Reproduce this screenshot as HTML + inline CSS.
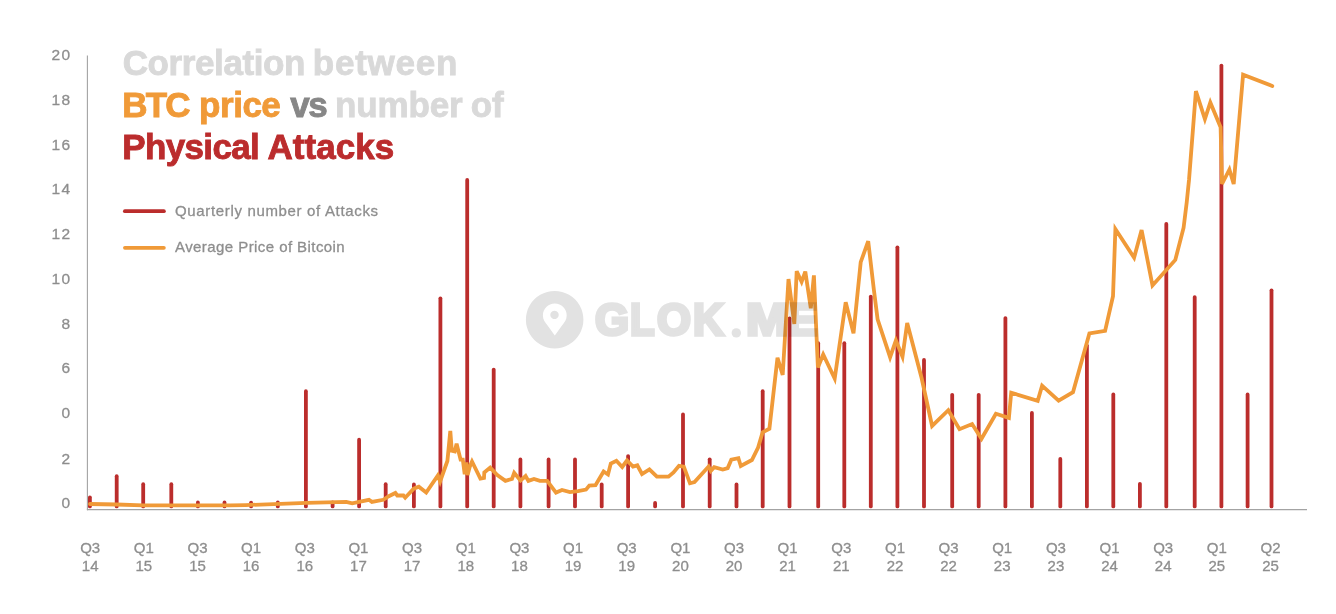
<!DOCTYPE html>
<html><head><meta charset="utf-8"><style>
html,body{margin:0;padding:0;background:#fff;}
body{width:1336px;height:614px;position:relative;overflow:hidden;font-family:"Liberation Sans",sans-serif;}
svg{position:absolute;left:0;top:0;}
.yl{position:absolute;left:21.5px;width:50px;text-align:right;font-size:15.5px;line-height:18px;letter-spacing:1.4px;color:#8e8e8e;-webkit-text-stroke:0.3px #8e8e8e;}
.xl{position:absolute;top:538.6px;width:40px;text-align:center;font-size:15px;line-height:18px;color:#8e8e8e;-webkit-text-stroke:0.3px #8e8e8e;}
.t{position:absolute;font-weight:bold;font-size:35px;line-height:35px;white-space:nowrap;-webkit-text-stroke:0.9px currentColor;}
.lg{position:absolute;left:175px;font-size:15px;line-height:18px;color:#8e8e8e;white-space:nowrap;-webkit-text-stroke:0.3px #8e8e8e;}
.wml{position:absolute;left:0;top:0;width:1336px;height:614px;mix-blend-mode:multiply;}
.wm{position:absolute;top:297px;font-weight:bold;font-size:45px;line-height:45px;color:#e2e2e2;-webkit-text-stroke:3.4px #e2e2e2;transform-origin:0 0;white-space:nowrap;}
.wmi{position:absolute;left:0;top:0;mix-blend-mode:multiply;}
</style></head><body>
<svg width="1336" height="614" viewBox="0 0 1336 614">
<line x1="87.4" y1="55.5" x2="87.4" y2="510.2" stroke="#a3a3a3" stroke-width="1.1"/>
<line x1="86.9" y1="509.7" x2="1307" y2="509.7" stroke="#a3a3a3" stroke-width="1.2"/>
<g stroke="#bb2d2c" stroke-width="3.8" stroke-linecap="round">
<line x1="89.9" y1="506.4" x2="89.9" y2="497.3"/>
<line x1="116.7" y1="506.4" x2="116.7" y2="476.2"/>
<line x1="143.2" y1="506.4" x2="143.2" y2="484.2"/>
<line x1="171.3" y1="506.4" x2="171.3" y2="484.2"/>
<line x1="197.9" y1="506.4" x2="197.9" y2="502.4"/>
<line x1="224.5" y1="506.4" x2="224.5" y2="502.4"/>
<line x1="251.1" y1="506.4" x2="251.1" y2="502.6"/>
<line x1="277.8" y1="506.4" x2="277.8" y2="502.4"/>
<line x1="305.9" y1="506.4" x2="305.9" y2="391.2"/>
<line x1="332.6" y1="506.4" x2="332.6" y2="502.4"/>
<line x1="359.1" y1="506.4" x2="359.1" y2="439.7"/>
<line x1="385.7" y1="506.4" x2="385.7" y2="484.2"/>
<line x1="413.9" y1="506.4" x2="413.9" y2="484.4"/>
<line x1="440.4" y1="506.4" x2="440.4" y2="298.3"/>
<line x1="467.2" y1="506.4" x2="467.2" y2="180"/>
<line x1="493.7" y1="506.4" x2="493.7" y2="369.6"/>
<line x1="520.4" y1="506.4" x2="520.4" y2="459.4"/>
<line x1="548.6" y1="506.4" x2="548.6" y2="459.4"/>
<line x1="575" y1="506.4" x2="575" y2="459.4"/>
<line x1="601.7" y1="506.4" x2="601.7" y2="484.4"/>
<line x1="628.1" y1="506.4" x2="628.1" y2="456.1"/>
<line x1="655.1" y1="506.4" x2="655.1" y2="502.9"/>
<line x1="683" y1="506.4" x2="683" y2="414.5"/>
<line x1="709.7" y1="506.4" x2="709.7" y2="459.3"/>
<line x1="736.5" y1="506.4" x2="736.5" y2="484.4"/>
<line x1="762.7" y1="506.4" x2="762.7" y2="391.2"/>
<line x1="789.5" y1="506.4" x2="789.5" y2="318.5"/>
<line x1="818.2" y1="506.4" x2="818.2" y2="343.2"/>
<line x1="844.3" y1="506.4" x2="844.3" y2="343.2"/>
<line x1="870.8" y1="506.4" x2="870.8" y2="296.6"/>
<line x1="897.4" y1="506.4" x2="897.4" y2="247.3"/>
<line x1="924" y1="506.4" x2="924" y2="360"/>
<line x1="952.2" y1="506.4" x2="952.2" y2="394.8"/>
<line x1="978.7" y1="506.4" x2="978.7" y2="394.8"/>
<line x1="1005.4" y1="506.4" x2="1005.4" y2="318.1"/>
<line x1="1031.9" y1="506.4" x2="1031.9" y2="413"/>
<line x1="1060.3" y1="506.4" x2="1060.3" y2="459"/>
<line x1="1086.9" y1="506.4" x2="1086.9" y2="345.6"/>
<line x1="1113.3" y1="506.4" x2="1113.3" y2="394.4"/>
<line x1="1139.9" y1="506.4" x2="1139.9" y2="483.8"/>
<line x1="1166.3" y1="506.4" x2="1166.3" y2="223.9"/>
<line x1="1194.7" y1="506.4" x2="1194.7" y2="297.1"/>
<line x1="1221.4" y1="506.4" x2="1221.4" y2="65.6"/>
<line x1="1247.6" y1="506.4" x2="1247.6" y2="394.4"/>
<line x1="1271.5" y1="506.4" x2="1271.5" y2="290.3"/>
</g>
<polyline points="90,504 116.7,504.5 143,505.4 230,505.4 245.6,505.1 306.6,502.8 346.2,501.8 352.2,503.4 368.9,499.8 371.9,501.9 383.3,499.8 388.8,496.2 395.4,493 397.3,495.5 403.4,495.5 405.2,497.7 413.7,488.6 418.8,486.7 426.2,492.5 437.9,475.4 440.1,481.5 447.4,461 450.3,431 451.8,450.8 454.7,451.5 456.6,443.7 460.6,459.6 462.8,459.6 464.7,474.2 466.4,462.5 467.6,475 469.7,466.9 472,461.5 480.4,478.6 484,477.9 484.3,472.5 490.2,467.6 497.3,475 505.4,480.9 512,478.9 514.2,472.8 520.5,480.6 525.6,476 528.4,480.9 534,478.9 539.9,480.9 547.2,480.8 556,492.6 562,490 569.9,492.1 578,491.1 586,489.6 589.3,485.6 595.5,485.2 603.6,471.5 608,474.5 610.8,463.6 616.4,460.8 622.2,467 627,460.5 633,466.5 637.3,465.3 642,474 649.4,469.3 656.9,476.7 668.5,476.7 673.5,472.5 679,465.8 683.8,466.7 690,483.3 694.5,482.1 708.6,466.5 710.8,471 714.2,467.2 722.8,469.5 727.7,468.1 731.3,459.7 738.4,458.2 740.8,466 751.9,460 758.1,447.5 762.6,432.3 769.4,428.7 777.5,357.7 782.7,375 788.5,279.1 794.3,324 796.7,271.2 801.6,281.8 805.3,271.6 810.8,308.2 813.9,275.4 817.9,367.5 823.2,354.5 834.7,378.5 845.7,302.2 853.5,333.3 860.7,262.2 868.2,241.2 873.9,290 877.6,319.3 890.1,357.2 895.9,340.5 902.5,356.7 907.2,323 921.6,378 932.1,425.9 948.3,410.2 959.5,429.2 972.1,424.1 981.5,438.8 995.9,413.8 1008.9,417.9 1011.2,392.7 1037.7,400.8 1042.1,385.7 1058.6,400.7 1073,392.2 1089.4,333.5 1105.1,330.8 1113,296.2 1115.4,229 1134.1,257.7 1141.6,230 1152.5,285.5 1175.3,259.9 1183.6,227.7 1186.7,202.5 1189,180 1192.9,130 1195.9,91.2 1204.9,119 1210.3,102.5 1220.6,127.2 1222,184 1229.4,169.5 1233.7,184 1243.1,74.7 1272.3,86" fill="none" stroke="#f09a38" stroke-width="3.8" stroke-linejoin="miter" stroke-miterlimit="4" stroke-linecap="round"/>
<line x1="124.9" y1="211.2" x2="163.9" y2="211.2" stroke="#bb2d2c" stroke-width="3.8" stroke-linecap="round"/>
<line x1="124.9" y1="247.8" x2="163.9" y2="247.8" stroke="#f09a38" stroke-width="3.7" stroke-linecap="round"/>
</svg>
<svg class="wmi" width="1336" height="614" viewBox="0 0 1336 614">
<path fill="#e2e2e2" fill-rule="evenodd" d="M554.65,290.9a28.75,28.75 0 1,0 0.01,0Z M554.8,303.6C548.2,303.6 542.9,308.9 542.9,315.5C542.9,319.8 545.2,322.8 547.6,325.4L554.8,335.4L562,325.4C564.4,322.8 566.7,319.8 566.7,315.5C566.7,308.9 561.4,303.6 554.8,303.6Z M554.5,310.7a4.2,4.2 0 1,0 0.01,0Z"/>
<circle cx="736.3" cy="332.9" r="4.7" fill="#e2e2e2"/>
</svg>
<div class="t" style="left:122.7px;top:44.9px;color:#d9d9d9;letter-spacing:-0.39px">Correlation</div>
<div class="t" style="left:312.8px;top:44.9px;color:#d9d9d9;letter-spacing:0.75px">between</div>
<div class="t" style="left:122.3px;top:86.9px;color:#f09a38;letter-spacing:-1.85px">BTC</div>
<div class="t" style="left:199.1px;top:86.9px;color:#f09a38;letter-spacing:-0.48px">price</div>
<div class="t" style="left:290.2px;top:86.9px;color:#878787;letter-spacing:-1.50px">vs</div>
<div class="t" style="left:335px;top:86.9px;color:#d9d9d9;letter-spacing:-0.12px">number</div>
<div class="t" style="left:470.7px;top:86.9px;color:#d9d9d9;letter-spacing:-0.10px">of</div>
<div class="t" style="left:122.3px;top:128.9px;color:#bb2c2d;letter-spacing:-0.66px">Physical</div>
<div class="t" style="left:267.4px;top:128.9px;color:#bb2c2d;letter-spacing:0.08px">Attacks</div>
<div class="lg" style="top:202px;letter-spacing:0.66px">Quarterly number of Attacks</div>
<div class="lg" style="top:238px;letter-spacing:0.43px">Average Price of Bitcoin</div>
<div class="wml">
<div class="wm" style="left:594.5px;transform:scaleX(0.974)">G</div>
<div class="wm" style="left:630.1px;transform:scaleX(0.893)">L</div>
<div class="wm" style="left:656.5px;transform:scaleX(0.971)">O</div>
<div class="wm" style="left:693.3px;transform:scaleX(0.947)">K</div>
<div class="wm" style="left:745.6px;transform:scaleX(1.117)">M</div>
<div class="wm" style="left:788px;transform:scaleX(0.983)">E</div>
</div>
<div class="yl" style="top:46.2px">20</div>
<div class="yl" style="top:90.9px">18</div>
<div class="yl" style="top:135.5px">16</div>
<div class="yl" style="top:180.3px">14</div>
<div class="yl" style="top:224.7px">12</div>
<div class="yl" style="top:269.6px">10</div>
<div class="yl" style="top:314.6px">8</div>
<div class="yl" style="top:359.2px">6</div>
<div class="yl" style="top:403.8px">0</div>
<div class="yl" style="top:449.5px">2</div>
<div class="yl" style="top:494px">0</div>
<div class="xl" style="left:70.2px">Q3<br>14</div>
<div class="xl" style="left:123.8px">Q1<br>15</div>
<div class="xl" style="left:177.5px">Q3<br>15</div>
<div class="xl" style="left:231.1px">Q1<br>16</div>
<div class="xl" style="left:284.8px">Q3<br>16</div>
<div class="xl" style="left:338.4px">Q1<br>17</div>
<div class="xl" style="left:392.1px">Q3<br>17</div>
<div class="xl" style="left:445.8px">Q1<br>18</div>
<div class="xl" style="left:499.4px">Q3<br>18</div>
<div class="xl" style="left:553px">Q1<br>19</div>
<div class="xl" style="left:606.7px">Q3<br>19</div>
<div class="xl" style="left:660.4px">Q1<br>20</div>
<div class="xl" style="left:714px">Q3<br>20</div>
<div class="xl" style="left:767.6px">Q1<br>21</div>
<div class="xl" style="left:821.3px">Q3<br>21</div>
<div class="xl" style="left:875px">Q1<br>22</div>
<div class="xl" style="left:928.6px">Q3<br>22</div>
<div class="xl" style="left:982.2px">Q1<br>23</div>
<div class="xl" style="left:1035.9px">Q3<br>23</div>
<div class="xl" style="left:1089.5px">Q1<br>24</div>
<div class="xl" style="left:1143.2px">Q3<br>24</div>
<div class="xl" style="left:1196.8px">Q1<br>25</div>
<div class="xl" style="left:1250.5px">Q2<br>25</div>
</body></html>
